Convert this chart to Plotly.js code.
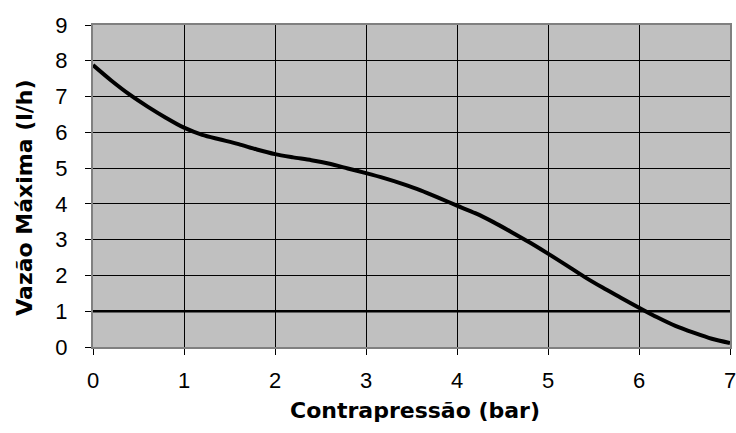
<!DOCTYPE html>
<html>
<head>
<meta charset="utf-8">
<script src="https://cdn.plot.ly/plotly-3.0.1.min.js"></script>
<style>
html,body{margin:0;padding:0;background:#fff;}
#chart{width:736px;height:433px;}
.annotation-text.xt{letter-spacing:0.7px;}
</style>
</head>
<body>
<div id="chart"></div>
<script>
const contrapressao = [0,0.2,0.4,0.6,0.8,1.0,1.2,1.4,1.6,1.8,2.0,2.2,2.4,2.6,2.8,3.0,3.2,3.4,3.6,3.8,4.0,4.2,4.4,4.6,4.8,5.0,5.2,5.4,5.6,5.8,6.0,6.2,6.4,6.6,6.8,7.0];
const vazaoMaxima = [7.88,7.45,7.06,6.72,6.41,6.13,5.93,5.8,5.67,5.52,5.39,5.3,5.22,5.12,4.99,4.86,4.72,4.56,4.38,4.17,3.95,3.74,3.49,3.21,2.92,2.61,2.29,1.96,1.66,1.38,1.1,0.83,0.59,0.4,0.23,0.11];
const limiteVazao = 1;
const xTicks = [0,1,2,3,4,5,6,7];
const yTicks = [0,1,2,3,4,5,6,7,8,9];
const xTitle = 'Contrapressão (bar)';
const yTitle = 'Vazão Máxima (l/h)';

const tickFont = {family: 'Liberation Sans, Arial, sans-serif', size: 22, color: '#000'};
const titleFont = {family: 'DejaVu Sans, sans-serif', size: 22, color: '#000', weight: 'bold'};

const trace = {
  x: contrapressao, y: vazaoMaxima, type: 'scatter', mode: 'lines',
  line: {color: '#000', width: 4, shape: 'spline', smoothing: 0.8}, hoverinfo: 'skip'
};

const layout = {
  width: 736, height: 433,
  margin: {l: 93, r: 6, t: 25, b: 86},
  paper_bgcolor: '#fff', plot_bgcolor: '#c0c0c0',
  showlegend: false,
  xaxis: {
    range: [0, 7], tickvals: xTicks, ticktext: xTicks.map(String),
    showgrid: true, gridcolor: '#000', gridwidth: 1,
    zeroline: false, showline: true, linecolor: '#808080', linewidth: 2, mirror: true,
    ticks: 'outside', ticklen: 6, tickcolor: '#000', tickwidth: 1,
    ticklabelstandoff: 7, ticklabeloverflow: 'allow',
    tickfont: tickFont
  },
  yaxis: {
    range: [0, 9], tickvals: yTicks, ticktext: yTicks.map(String),
    showgrid: true, gridcolor: '#000', gridwidth: 1,
    zeroline: false, showline: true, linecolor: '#808080', linewidth: 2, mirror: true,
    ticks: 'outside', ticklen: 6, tickcolor: '#000', tickwidth: 1,
    ticklabelstandoff: 13, ticklabeloverflow: 'allow',
    tickfont: tickFont
  },
  annotations: [
    {text: '<b>' + xTitle + '</b>', xref: 'paper', yref: 'paper', x: 0.506, y: -0.197,
     xanchor: 'center', yanchor: 'middle', showarrow: false, font: titleFont},
    {text: '<b>' + yTitle + '</b>', xref: 'paper', yref: 'paper', x: -0.107, y: 0.463,
     xanchor: 'center', yanchor: 'middle', showarrow: false, textangle: -90, font: titleFont}
  ],
  shapes: [{
    type: 'line', xref: 'paper', yref: 'y', x0: 0, x1: 1, y0: limiteVazao, y1: limiteVazao,
    line: {color: '#000', width: 2.5}, layer: 'below'
  }]
};

Plotly.newPlot('chart', [trace], layout, {displayModeBar: false, staticPlot: true});
</script>
</body>
</html>
